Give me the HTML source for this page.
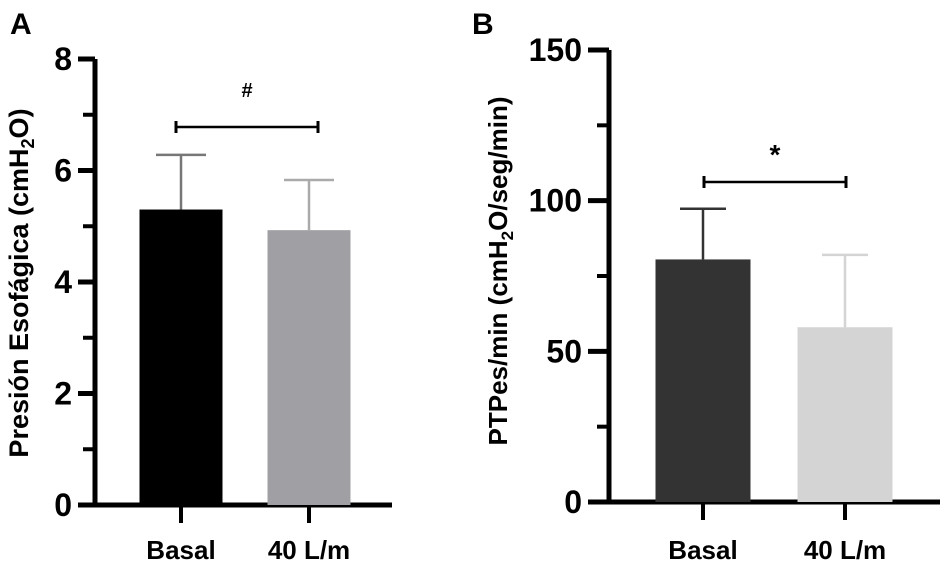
<!DOCTYPE html>
<html><head><meta charset="utf-8"><style>
body{margin:0;background:#fff;}
svg text{font-family:"Liberation Sans",Arial,sans-serif;font-weight:bold;}
</style></head><body>
<svg width="944" height="561" viewBox="0 0 944 561">
<text x="10" y="34" font-size="30">A</text>
<text x="472" y="34" font-size="30">B</text>
<g id="ga"></g>
<g id="gb"></g>
</svg>
<script>
const catsA = ["Basal","40 L/m"];
const valsA = [5.3, 4.93];
const errA = [0.98, 0.9];
const ticksA = [0,2,4,6,8];
const minorA = [1,3,5,7];
const catsB = ["Basal","40 L/m"];
const valsB = [80.5, 58];
const errB = [16.8, 24];
const ticksB = [0,50,100,150];
const minorB = [25,75,125];
const NS="http://www.w3.org/2000/svg";
function mk(p,t,a,name){const e=document.createElementNS(NS,t);for(const k in a)e.setAttribute(k,a[k]);


p.appendChild(e);return e;}
function draw(g,cfg){
 const y=v=>cfg.y0-(v-0)*(cfg.y0-cfg.y1)/cfg.max;
 mk(g,'line',{x1:cfg.ax,y1:y(cfg.max),x2:cfg.ax,y2:cfg.y0+2.5,stroke:'#000','stroke-width':5},'y-axis');
 mk(g,'line',{x1:cfg.xl,y1:cfg.y0,x2:cfg.xr,y2:cfg.y0,stroke:'#000','stroke-width':5},'x-axis');
 cfg.ticks.forEach(t=>{mk(g,'line',{x1:cfg.xl,y1:y(t),x2:cfg.ax,y2:y(t),stroke:'#000','stroke-width':5},'y-tick');
  const tx=mk(g,'text',{x:cfg.xl-6,y:y(t)+11,'font-size':32,'text-anchor':'end'},'y-tick-label');tx.textContent=t;});
 cfg.minor.forEach(t=>mk(g,'line',{x1:cfg.ax-12,y1:y(t),x2:cfg.ax,y2:y(t),stroke:'#000','stroke-width':4},'y-minor-tick'));
 cfg.vals.forEach((v,i)=>{const cx=cfg.cx[i];
  mk(g,'line',{x1:cx,y1:y(v),x2:cx,y2:y(v+cfg.err[i]),stroke:cfg.ecol[i],'stroke-width':2.5},'error-bar');
  mk(g,'line',{x1:cx-cfg.cap,y1:y(v+cfg.err[i]),x2:cx+cfg.cap,y2:y(v+cfg.err[i]),stroke:cfg.ecol[i],'stroke-width':2.5},'error-cap');
  mk(g,'rect',{x:cx-cfg.bw/2,y:y(v),width:cfg.bw,height:cfg.y0-y(v),fill:cfg.col[i]},'bar-'+i);
  mk(g,'line',{x1:cx,y1:cfg.y0,x2:cx,y2:cfg.y0+18,stroke:'#000','stroke-width':4},'x-tick');
  const tx=mk(g,'text',{x:cx,y:559,'font-size':26,'text-anchor':'middle'},'x-tick-label');tx.textContent=cfg.cats[i];});
 const sy=cfg.sigY, a=cfg.cx[0]+cfg.so[0], b=cfg.cx[1]+cfg.so[1];
 mk(g,'line',{x1:a,y1:sy,x2:b,y2:sy,stroke:'#000','stroke-width':2.5},'significance-bar');
 mk(g,'line',{x1:a,y1:sy-6,x2:a,y2:sy+6,stroke:'#000','stroke-width':3},'significance-end');
 mk(g,'line',{x1:b,y1:sy-6,x2:b,y2:sy+6,stroke:'#000','stroke-width':3},'significance-end');
 const s=mk(g,'text',{x:(a+b)/2,y:cfg.sigTY,'font-size':cfg.sigSize,'text-anchor':'middle'},'significance-mark');s.textContent=cfg.sig;
}
draw(document.getElementById('ga'),{ax:95,xl:78,xr:392,y0:505,y1:59,max:8,ticks:ticksA,minor:minorA,vals:valsA,err:errA,cats:catsA,
 cx:[181,309],so:[-5,9],bw:83,cap:25,col:['#000','#a0a0a4'],ecol:['#777','#aaa'],sigY:127,sigTY:97,sig:'#',sigSize:20});
draw(document.getElementById('gb'),{ax:609,xl:588,xr:940,y0:502,y1:50,max:150,ticks:ticksB,minor:minorB,vals:valsB,err:errB,cats:catsB,
 cx:[703,845],so:[1,1],bw:95,cap:23,col:['#333','#d4d4d4'],ecol:['#333','#d4d4d4'],sigY:182,sigTY:164,sig:'*',sigSize:28});
</script>
<svg style="position:absolute;left:0;top:0" width="944" height="561">
<text transform="translate(28,283) rotate(-90)" text-anchor="middle" font-size="27">Presión Esofágica (cmH<tspan font-size="18" dy="6">2</tspan><tspan dy="-6">O)</tspan></text>
<text transform="translate(507,271) rotate(-90)" text-anchor="middle" font-size="26">PTPes/min (cmH<tspan font-size="17" dy="6">2</tspan><tspan dy="-6">O/seg/min)</tspan></text>
</svg>
</body></html>
